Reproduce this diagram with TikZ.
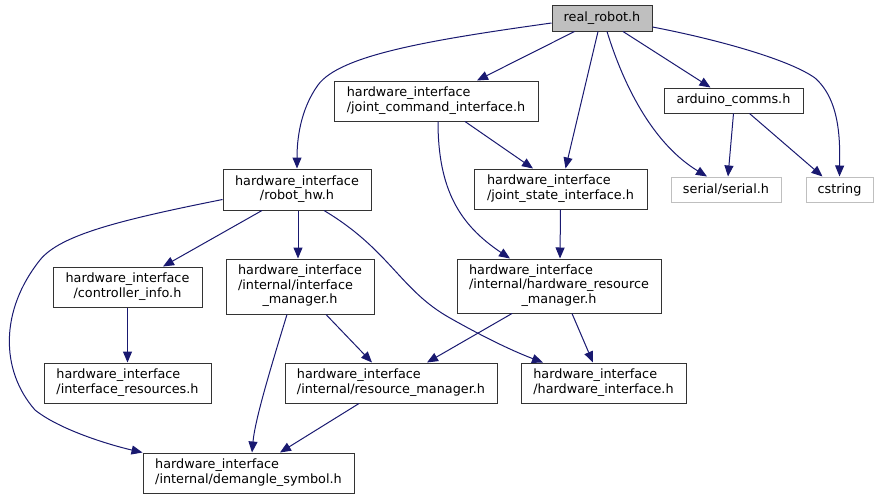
\documentclass[tikz,border=0pt]{standalone}
\usepackage{fontspec}
\setmainfont{DejaVu Sans}
\usetikzlibrary{arrows.meta,calc}
\definecolor{edgeblue}{RGB}{25,25,112}
\definecolor{grayfill}{RGB}{191,191,191}
\definecolor{lightborder}{RGB}{191,191,191}
\newcommand\twolines[2]{\begin{tabular}{@{}l@{}}#1\\\multicolumn{1}{@{}c@{}}{#2}\end{tabular}}
\newcommand\threelines[3]{\begin{tabular}{@{}l@{}}#1\\#2\\\multicolumn{1}{@{}c@{}}{#3}\end{tabular}}
\tikzset{
  box/.style={draw=black!80,line width=1pt,fill=white,inner sep=0pt,
    font=\fontsize{12.8}{14.5}\selectfont},
  ext/.style={box,draw=lightborder},
  dep/.style={draw=edgeblue,line width=1pt,-{Triangle[length=11pt,width=9pt]}}
}
\begin{document}
\begin{tikzpicture}[x=1pt,y=-1pt]
\useasboundingbox (0,0) rectangle (878,499);
% nodes
\node[box,fill=grayfill,minimum width=100pt,minimum height=26pt] (real) at (602,18) {real\_robot.h};
\node[box,minimum width=139pt,minimum height=25pt] (ard) at (733.5,100.5) {arduino\_comms.h};
\node[ext,minimum width=110pt,minimum height=25pt] (serial) at (726,189.5) {serial/serial.h};
\node[ext,minimum width=67pt,minimum height=25pt] (cstr) at (839.5,189.5) {cstring};
\node[box,minimum width=204pt,minimum height=40pt] (jci) at (436,101) {\twolines{hardware\_interface}{/joint\_command\_interface.h}};
\node[box,minimum width=173pt,minimum height=40pt] (jsi) at (560.5,189) {\twolines{hardware\_interface}{/joint\_state\_interface.h}};
\node[box,minimum width=148pt,minimum height=41pt] (rhw) at (297,189.5) {\twolines{hardware\_interface}{/robot\_hw.h}};
\node[box,minimum width=148pt,minimum height=55pt] (iman) at (300,286.5) {\threelines{hardware\_interface}{/internal/interface}{\_manager.h}};
\node[box,minimum width=149pt,minimum height=40pt] (cinfo) at (127.5,287) {\twolines{hardware\_interface}{/controller\_info.h}};
\node[box,minimum width=167pt,minimum height=40pt] (ires) at (127.5,383) {\twolines{hardware\_interface}{/interface\_resources.h}};
\node[box,minimum width=211pt,minimum height=40pt] (dem) at (248.5,473) {\twolines{hardware\_interface}{/internal/demangle\_symbol.h}};
\node[box,minimum width=212pt,minimum height=40pt] (rman) at (391,383) {\twolines{hardware\_interface}{/internal/resource\_manager.h}};
\node[box,minimum width=165pt,minimum height=40pt] (hwi) at (603.5,383) {\twolines{hardware\_interface}{/hardware\_interface.h}};
\node[box,minimum width=204pt,minimum height=54pt] (hrm) at (559,286) {\threelines{hardware\_interface}{/internal/hardware\_resource}{\_manager.h}};
% edges
\draw[dep] ($(real.west)+(0,5)$) .. controls (430,40) and (340,55) .. (318,85) .. controls (300,110) and (297,140) .. (rhw.north);
\draw[dep] ($(real.south west)+(23,0)$) -- ($(jci.north)+(41,0)$);
\draw[dep] ($(real.south)+(-4,0)$) -- ($(jsi.north)+(5,0)$);
\draw[dep] ($(real.south)+(5,0)$) .. controls (625,90) and (655,145) .. ($(serial.north)+(-19,0)$);
\draw[dep] ($(real.south)+(21,0)$) -- ($(ard.north)+(-23,0)$);
\draw[dep] ($(real.east)+(0,9)$) .. controls (720,40) and (790,60) .. (815,78) .. controls (840,100) and (840,140) .. (cstr.north);
\draw[dep] (ard.south) -- ($(serial.north)+(2,0)$);
\draw[dep] ($(ard.south)+(16,0)$) -- ($(cstr.north)+(-17,0)$);
\draw[dep] ($(jci.south)+(29,0)$) -- ($(jsi.north)+(-27.5,0)$);
\draw[dep] ($(jci.south)+(2,0)$) .. controls (438,190) and (460,225) .. ($(hrm.north)+(-49,0)$);
\draw[dep] (jsi.south) -- ($(hrm.north)+(1,0)$);
\draw[dep] ($(rhw.south)+(-35,0)$) -- ($(cinfo.north)+(35.5,0)$);
\draw[dep] ($(rhw.south)+(1,0)$) -- ($(iman.north)+(-2,0)$);
\draw[dep] ($(rhw.south)+(27,0)$) .. controls (390,250) and (400,290) .. (450,318) .. controls (480,335) and (510,350) .. ($(hwi.north)+(-60.5,0)$);
\draw[dep] ($(rhw.west)+(0,10)$) .. controls (120,220) and (60,235) .. (40,260) .. controls (0,310) and (0,370) .. (35,410) .. controls (60,430) and (110,445) .. (dem.north west);
\draw[dep] (cinfo.south) -- (ires.north);
\draw[dep] ($(iman.south)+(26,0)$) -- ($(rman.north)+(-19,0)$);
\draw[dep] ($(iman.south)+(-13,0)$) .. controls (270,370) and (255,420) .. ($(dem.north)+(3.5,0)$);
\draw[dep] ($(hrm.south)+(-47,0)$) -- ($(rman.north)+(36,0)$);
\draw[dep] ($(hrm.south)+(13,0)$) -- ($(hwi.north)+(-10.5,0)$);
\draw[dep] ($(rman.south)+(-32,0)$) -- ($(dem.north)+(31.5,0)$);
\end{tikzpicture}
\end{document}
